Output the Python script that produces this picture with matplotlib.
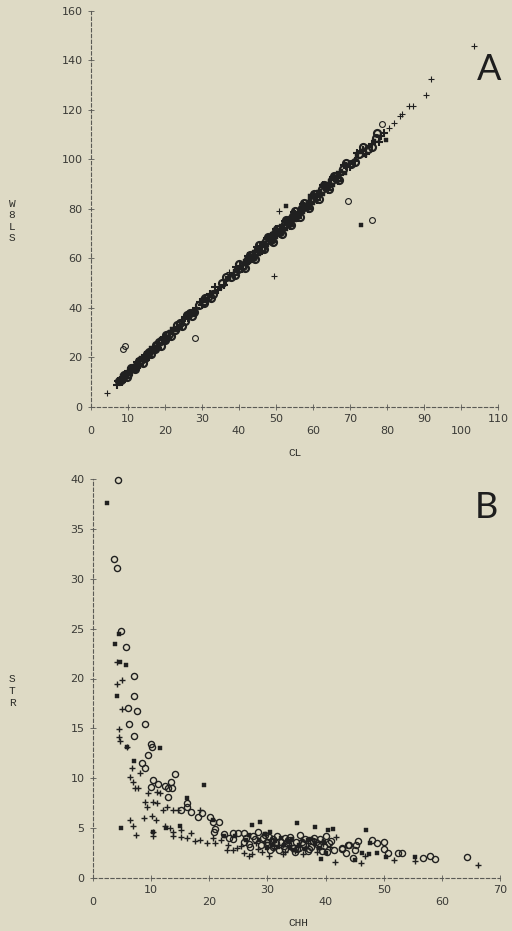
import matplotlib
matplotlib.use("Agg")
import matplotlib.pyplot as plt

# ---------------- Panel A: WBLS against CL ----------------
# main cloud along the regression line
a_circ_cl = [7.5, 8.2, 9.0, 10.1, 11.3, 12.0, 13.4, 14.6, 15.8, 17.2, 18.5, 19.9, 21.0, 22.6,
             24.1, 25.3, 26.8, 27.9, 29.2, 30.5, 31.6, 33.0, 35.4, 37.9, 39.6, 41.2, 42.5, 43.8,
             45.1, 46.3, 47.4, 48.6, 49.8, 51.0, 52.3, 53.5, 54.6, 55.8, 57.1, 58.4, 59.6, 60.9,
             62.3, 63.6, 65.0, 66.4, 68.1, 70.2, 72.5, 74.8, 77.1,
             8.8, 9.6, 10.8, 11.9, 13.0, 14.0, 15.2, 16.3, 17.6, 18.9, 20.3, 21.7, 23.3, 24.6,
             26.0, 27.3, 30.9, 32.4, 36.6, 38.8, 40.1, 41.6, 42.9, 44.2, 45.5, 46.8, 47.9, 49.1,
             50.3, 51.5, 52.8, 54.0, 55.2, 56.4, 57.6, 58.9, 60.2, 61.5, 62.9, 64.2, 65.6, 67.0,
             69.0, 71.4, 73.6, 75.9, 77.3]
a_circ_w = [10.4, 10.8, 12.6, 13.3, 15.9, 16.1, 18.9, 19.7, 22.3, 23.4, 26.1, 27.2, 29.6, 31.0,
            34.0, 34.8, 37.9, 38.4, 41.3, 42.0, 44.6, 45.5, 49.9, 52.4, 55.9, 57.1, 59.9, 60.8,
            63.7, 64.3, 66.9, 67.5, 70.3, 70.9, 73.8, 74.4, 77.1, 77.7, 80.6, 81.3, 84.1, 84.9,
            87.9, 88.7, 91.8, 92.6, 96.1, 98.0, 102.3, 104.4, 108.8,
            13.0, 12.1, 15.6, 15.2, 18.5, 17.8, 21.5, 21.6, 25.2, 24.8, 28.9, 28.7, 33.2, 32.6,
            37.0, 36.6, 44.0, 43.9, 52.6, 53.5, 57.6, 56.3, 61.3, 59.9, 65.5, 63.8, 68.8, 66.5,
            72.1, 70.0, 75.7, 73.6, 79.0, 76.9, 82.5, 80.4, 86.0, 84.0, 89.8, 87.9, 93.5, 91.8,
            98.5, 98.9, 105.0, 105.2, 110.7]

a_plus_cl = [7.0, 7.8, 8.6, 9.5, 10.6, 11.8, 12.7, 13.9, 15.1, 16.4, 17.8, 19.2, 20.4, 21.8,
             23.3, 24.7, 26.1, 28.5, 30.0, 32.2, 34.2, 36.5, 38.6, 40.4, 41.8, 43.1, 44.4, 45.7,
             46.9, 48.0, 49.2, 50.4, 51.6, 52.9, 54.1, 55.2, 56.4, 57.7, 59.0, 60.3, 61.6, 63.0,
             64.3, 65.7, 67.2, 69.0, 71.3, 73.6, 76.0, 78.4,
             7.3, 8.3, 9.9, 11.0, 12.3, 13.2, 14.5, 15.6, 16.9, 18.1, 19.6, 20.9, 22.3, 23.8,
             25.4, 27.0, 29.5, 31.4, 33.6, 35.9, 39.2, 40.9, 42.4, 43.6, 44.9, 46.1, 47.6, 48.8,
             50.0, 51.2, 52.5, 53.7, 54.9, 56.0, 57.3, 58.6, 59.9, 61.2, 62.6, 64.0, 65.3, 66.8,
             68.4, 70.0, 72.0, 74.3, 77.8, 79.2]
a_plus_w = [8.9, 11.0, 11.2, 13.5, 14.0, 16.7, 17.0, 19.6, 20.3, 23.2, 24.1, 27.1, 27.8, 30.8,
            31.9, 34.9, 35.8, 40.2, 41.3, 45.5, 47.2, 51.5, 53.4, 57.0, 57.9, 60.8, 61.6, 64.5,
            65.1, 67.7, 68.4, 71.2, 71.8, 74.6, 75.3, 77.9, 78.5, 81.4, 82.2, 85.1, 85.9, 88.9,
            89.7, 92.7, 93.8, 97.4, 99.5, 103.9, 106.1, 109.4,
            10.6, 9.9, 14.6, 14.0, 18.0, 17.0, 21.2, 20.2, 24.3, 23.7, 28.3, 27.5, 32.0, 31.8,
            36.4, 36.8, 42.6, 42.8, 48.3, 49.2, 56.4, 55.9, 60.9, 59.8, 64.7, 63.1, 68.4, 66.6,
            71.8, 69.8, 75.3, 73.1, 78.7, 76.3, 82.1, 80.0, 85.8, 83.6, 89.5, 87.6, 93.1, 91.5,
            97.8, 96.8, 102.6, 102.4, 107.0, 110.8]

a_sq_cl = [8.0, 9.2, 10.4, 11.6, 12.9, 14.2, 15.5, 16.9, 18.2, 19.6, 21.4, 22.9, 25.8, 27.3,
           29.8, 31.1, 32.6, 34.8, 39.0, 40.8, 42.2, 43.4, 44.7, 45.9, 47.1, 48.3, 49.5, 50.7,
           51.9, 53.1, 54.3, 55.5, 56.7, 58.0, 59.3, 60.6, 62.0, 63.3, 64.7, 66.1, 67.7, 70.7,
           73.0, 75.5, 79.8,
           7.7, 8.5, 9.8, 11.1, 12.4, 13.6, 14.9, 16.1, 17.4, 18.8, 20.0, 22.0, 23.6, 26.5,
           28.2, 30.3, 33.8, 37.2, 39.8, 41.5, 42.8, 44.0, 45.3, 46.5, 47.7, 48.9, 50.1, 51.3,
           52.6, 53.8, 55.0, 56.1, 57.4, 58.7, 60.0, 61.3, 62.7, 64.0, 65.4, 66.8, 68.6, 71.8,
           74.1, 76.5]
a_sq_w = [11.3, 12.0, 14.7, 15.4, 18.2, 19.0, 21.9, 22.8, 25.7, 26.6, 30.2, 31.3, 36.4, 37.5,
          42.0, 42.9, 46.0, 48.1, 55.0, 56.5, 59.5, 60.2, 63.0, 63.7, 66.4, 67.1, 69.8, 70.5,
          73.2, 73.9, 76.6, 77.3, 79.9, 80.8, 83.6, 84.5, 87.4, 88.3, 91.2, 92.2, 95.5, 98.7,
          102.9, 105.5, 108.0,
          9.6, 12.4, 12.6, 16.3, 16.1, 19.9, 19.8, 23.7, 23.1, 27.3, 26.6, 31.7, 31.4, 37.9,
          38.2, 43.7, 46.5, 52.2, 55.2, 58.8, 58.6, 62.8, 62.0, 66.4, 65.6, 69.7, 68.8, 73.0,
          72.0, 76.3, 75.4, 79.6, 78.8, 83.0, 82.5, 87.0, 86.0, 90.3, 89.8, 94.6, 94.5, 101.6,
          102.0, 107.5]

# isolated specimens away from the main cloud
a_circ_out_cl = [8.6, 9.3, 28.2, 69.5, 76.0, 78.6]
a_circ_out_w = [23.4, 24.8, 27.8, 83.2, 75.5, 114.3]
a_plus_out_cl = [4.3, 37.4, 49.5, 50.9, 80.5, 81.9, 83.5, 84.0, 86.0, 87.0, 90.5, 91.9, 103.5]
a_plus_out_w = [5.7, 54.7, 53.0, 79.2, 112.7, 114.7, 117.6, 118.4, 121.6, 121.6, 126.0, 132.5, 145.9]
a_sq_out_cl = [52.7, 59.2, 73.0]
a_sq_out_w = [81.3, 85.3, 73.6]

a_xticks = [0, 10, 20, 30, 40, 50, 60, 70, 80, 90, 100, 110]
a_yticks = [0, 20, 40, 60, 80, 100, 120, 140, 160]

# ---------------- Panel B: STR against CHH ----------------
b_circ_chh = [4.3, 3.6, 4.1, 4.8, 5.6, 7.1, 7.1, 6.0, 7.6, 6.2, 8.9, 7.1, 10.0, 10.1, 9.5, 8.4,
              9.0, 14.1, 10.3, 11.2, 13.4, 12.4, 10.0, 12.9, 13.6, 12.9, 16.1, 16.2, 15.2, 16.9,
              18.0, 18.8, 20.2, 21.6, 20.8, 20.7, 21.0, 24.1, 25.0, 25.9, 24.0, 25.9, 28.4, 29.3,
              30.3, 30.5, 35.6, 39.1, 41.0, 41.5, 42.8, 43.5, 44.1, 45.3, 45.5, 45.1, 44.8, 48.0,
              48.8, 50.0, 50.0, 50.8, 52.5, 53.2, 56.7, 57.9, 58.9, 64.3,
              31.5, 32.8, 33.6, 34.4, 36.2, 37.5, 38.4, 31.0, 27.5, 26.8, 32.0, 36.9, 39.8, 40.3,
              43.9, 42.8, 29.9, 33.1, 35.0, 37.9, 30.8, 34.7,
              27.9, 28.9, 29.6, 30.9, 31.6, 32.3, 33.0, 33.8, 34.9, 35.5, 36.4, 37.2, 38.0, 38.7,
              39.4, 40.6, 22.6, 23.4, 26.3, 27.0, 30.0, 33.2, 36.0, 40.1]
b_circ_str = [39.9, 32.0, 31.1, 24.8, 23.2, 20.3, 18.2, 17.0, 16.7, 15.4, 15.4, 14.2, 13.4, 13.1,
              12.3, 11.5, 11.0, 10.4, 9.8, 9.4, 9.6, 9.2, 9.1, 9.0, 9.0, 8.1, 7.5, 7.1, 6.8, 6.6,
              6.1, 6.5, 6.1, 5.6, 4.6, 5.6, 4.9, 4.5, 4.5, 4.5, 3.9, 3.6, 4.6, 4.0,
              4.1, 2.8, 4.3, 3.9, 3.7, 2.8, 2.9, 2.5, 3.3, 3.3, 3.7, 2.8, 2.0, 3.8,
              3.5, 3.6, 2.9, 2.5, 2.5, 2.5, 2.0, 2.2, 1.9, 2.1,
              3.5, 3.2, 3.8, 3.0, 3.4, 3.1, 3.6, 3.9, 4.2, 3.4, 2.8, 2.7, 3.2, 2.6,
              3.3, 3.0, 3.3, 4.0, 2.9, 3.7, 3.7, 2.6,
              3.9, 3.3, 4.3, 3.1, 4.2, 3.6, 2.9, 4.1, 3.6, 3.0, 3.9, 2.9, 4.0, 3.3,
              2.7, 3.5, 4.4, 4.0, 4.0, 3.1, 3.6, 3.5, 3.6, 4.2]

b_plus_chh = [4.1, 5.0, 4.1, 5.0, 4.5, 4.5, 4.6, 5.8, 6.7, 8.1, 6.4, 6.9, 7.2, 7.7, 9.5, 11.5,
              11.0, 12.7, 13.8, 14.7, 12.1, 11.0, 10.4, 9.0, 9.3, 8.8, 10.1, 10.8, 6.4, 6.9,
              7.4, 10.3, 12.4, 13.2, 13.8, 15.2, 13.8, 15.2, 16.9, 16.1, 17.5, 18.4, 19.6, 20.9,
              20.7, 18.4, 23.3, 23.0, 24.1, 24.7, 27.3, 26.9, 28.4, 30.2, 41.6, 46.1, 46.8, 51.7,
              55.3, 66.3, 41.8, 31.2, 33.0, 35.2, 37.0, 38.8, 29.6, 34.0, 10.3, 36.1, 39.5,
              28.0, 29.1, 30.6, 31.9, 32.6, 33.9, 34.8, 35.8, 36.7, 37.6, 38.5, 39.3, 40.7, 22.0,
              25.5, 26.0]
b_plus_str = [21.7, 19.8, 19.4, 16.9, 14.9, 14.1, 13.7, 13.1, 11.0, 10.5, 10.1, 9.6, 9.0, 9.0,
              8.5, 8.5, 8.6, 7.1, 6.8, 6.8, 6.8, 7.5, 7.6, 7.6, 7.1, 6.0, 6.2, 5.8, 5.8, 5.2,
              4.3, 4.2, 5.2, 5.0, 4.6, 4.8, 4.2, 4.1, 4.5, 4.0, 3.7, 3.8, 3.5, 3.5,
              4.0, 6.8, 3.3, 2.8, 2.8, 3.0, 2.4, 2.2, 2.9, 2.2, 1.6, 1.5, 2.2, 1.8,
              1.7, 1.3, 4.1, 3.0, 2.6, 3.1, 3.5, 2.9, 3.6, 3.3, 4.6, 2.4, 3.4,
              3.5, 2.6, 3.9, 3.3, 2.4, 3.7, 2.7, 3.8, 3.0, 3.9, 2.6, 3.7, 3.1, 3.8,
              3.2, 2.5]

b_sq_chh = [2.4, 4.5, 3.8, 4.6, 5.7, 4.1, 11.5, 7.1, 19.1, 16.1, 4.9, 10.3, 15.0, 20.7, 22.5,
            26.4, 27.3, 28.7, 35.0, 38.2, 40.5, 41.3, 39.2, 45.0, 46.3, 47.0, 47.7, 48.8, 50.4,
            55.4, 47.5, 36.5, 33.5, 30.8, 32.3, 38.9, 40.0, 29.5, 12.6, 5.8, 31.8, 34.6, 37.4,
            28.6, 29.9, 31.3, 32.9, 34.2, 35.5, 36.9, 38.1, 39.7, 24.5, 26.8, 30.5, 33.8]
b_sq_str = [37.6, 24.5, 23.5, 21.7, 21.4, 18.2, 13.0, 11.7, 9.3, 8.0, 5.0, 4.6, 5.2, 5.8, 4.2,
            3.8, 5.3, 5.6, 5.5, 5.1, 4.8, 4.9, 1.9, 1.8, 2.5, 4.8, 3.5, 2.5, 2.1,
            2.1, 2.4, 2.9, 3.7, 3.3, 4.0, 3.0, 2.5, 4.4, 5.0, 13.1, 3.1, 2.8, 3.9,
            3.8, 3.0, 3.7, 3.3, 3.9, 3.3, 3.8, 3.4, 3.6, 4.2, 4.3, 4.6, 3.0]

b_xticks = [0, 10, 20, 30, 40, 50, 60, 70]
b_yticks = [0, 5, 10, 15, 20, 25, 30, 35, 40]

# ---------------- styling ----------------
PAPER = "#dedac5"
INK = "#202020"
AXIS = "#5a5a55"
W, H = 512, 931

fig = plt.figure(figsize=(W / 100, H / 100), dpi=100, facecolor=PAPER)


def px_axes(x0, y0, x1, y1):
    """Axes whose data box spans pixel corners (x0, y0) top-left to (x1, y1) bottom-right."""
    return fig.add_axes([x0 / W, 1 - y1 / H, (x1 - x0) / W, (y1 - y0) / H])


def style_axes(ax, xticks, yticks, xlim, ylim):
    ax.set_facecolor("none")
    for s in ("top", "right"):
        ax.spines[s].set_visible(False)
    for s in ("left", "bottom"):
        ax.spines[s].set_color(AXIS)
        ax.spines[s].set_linewidth(0.8)
        ax.spines[s].set_linestyle((0, (3, 2.2)))
    ax.set_xlim(*xlim)
    ax.set_ylim(*ylim)
    ax.set_xticks(xticks)
    ax.set_xticklabels([("\n" if i % 2 == 0 else "") + str(t) for i, t in enumerate(xticks)])
    ax.set_yticks(yticks)
    ax.set_yticklabels([str(t) for t in yticks])
    ax.tick_params(direction="inout", length=4, width=0.6, color=AXIS,
                   labelsize=8, labelcolor="#3a3a36", pad=4)
    ax.tick_params(axis="x", pad=3)
    for lab in ax.get_xticklabels() + ax.get_yticklabels():
        lab.set_linespacing(1.25)


def scatter(ax, xs, ys, kind, ms=None, mew=0.9):
    if kind == "o":
        ax.plot(xs, ys, "o", ms=ms or 4.2, mfc="none", mec=INK, mew=mew, clip_on=False)
    elif kind == "+":
        ax.plot(xs, ys, "+", ms=ms or 5.0, mec=INK, mew=mew, clip_on=False)
    else:
        ax.plot(xs, ys, "s", ms=ms or 2.4, mfc=INK, mec=INK, mew=0.3, clip_on=False)


# Panel A: heavy overprinting in the main cloud, lighter isolated points
axA = px_axes(91, 11, 498, 407)
style_axes(axA, a_xticks, a_yticks, (0, 110), (0, 160))
scatter(axA, a_circ_cl, a_circ_w, "o", ms=5.0, mew=1.6)
scatter(axA, a_plus_cl, a_plus_w, "+", ms=5.5, mew=1.5)
scatter(axA, a_sq_cl, a_sq_w, "s", ms=3.4)
scatter(axA, a_circ_out_cl, a_circ_out_w, "o", ms=4.2, mew=0.8)
scatter(axA, a_plus_out_cl, a_plus_out_w, "+", ms=4.6, mew=0.8)
scatter(axA, a_sq_out_cl, a_sq_out_w, "s", ms=2.4)

# Panel B
axB = px_axes(93, 479, 500, 878)
style_axes(axB, b_xticks, b_yticks, (0, 70), (0, 40))
scatter(axB, b_circ_chh, b_circ_str, "o", ms=4.4, mew=1.0)
scatter(axB, b_plus_chh, b_plus_str, "+", ms=5.0, mew=1.0)
scatter(axB, b_sq_chh, b_sq_str, "s", ms=2.7)

# axis titles and panel letters
lab_kw = dict(family="Liberation Mono", fontsize=8, color="#2e2e2a", ha="center", va="center")
fig.text(295 / W, 1 - 453 / H, "CL", **lab_kw)
fig.text(298 / W, 1 - 923 / H, "CHH", **lab_kw)
fig.text(12 / W, 1 - 221 / H, "W\n8\nL\nS", linespacing=1.2, **lab_kw)
fig.text(12 / W, 1 - 691 / H, "S\nT\nR", linespacing=1.2, **lab_kw)

let_kw = dict(family="Lato", weight="normal", fontsize=26, color="#1e1e1e",
              ha="center", va="center")
fig.text(489 / W, 1 - 69 / H, "A", **let_kw)
fig.text(486 / W, 1 - 508 / H, "B", **let_kw)

fig.savefig("out.png", dpi=100, facecolor=PAPER)
